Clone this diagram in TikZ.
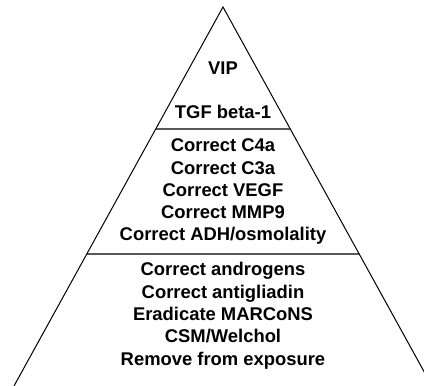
\documentclass[tikz,border=0pt]{standalone}
\usepackage{fontspec}
\setmainfont{Liberation Sans}
\usetikzlibrary{calc}
\begin{document}
\begin{tikzpicture}[x=1pt,y=-1pt,
  tier/.style={align=center,inner sep=0pt,font=\fontsize{18.4}{22.3}\selectfont\bfseries},
  edge/.style={draw=black,line width=1pt},
  sep/.style={draw=black!65,line width=2pt}]
\useasboundingbox (0,0) rectangle (424,386);
\clip (0,0) rectangle (424,386);
\coordinate (apex) at (223,7);
\coordinate (bl) at (14,386);
\coordinate (br) at (432,386);
\coordinate (s1l) at ($(apex)!0.3206!(bl)$);
\coordinate (s1r) at ($(apex)!0.3206!(br)$);
\coordinate (s2l) at ($(apex)!0.6517!(bl)$);
\coordinate (s2r) at ($(apex)!0.6517!(br)$);
\draw[sep] (s1l) -- (s1r);
\draw[sep] (s2l) -- (s2r);
\draw[edge] (bl) -- (apex) -- (br);
\node[tier] (vip) at (223,68) {VIP};
\node[tier] (tgf) at (223,111.7) {TGF beta-1};
\node[tier] (mid) at (223,191.8) {Correct C4a\\Correct C3a\\Correct VEGF\\Correct MMP9\\Correct ADH/osmolality};
\node[tier] (low) at (223,315.8) {Correct androgens\\Correct antigliadin\\Eradicate MARCoNS\\CSM/Welchol\\Remove from exposure};
\end{tikzpicture}
\end{document}
